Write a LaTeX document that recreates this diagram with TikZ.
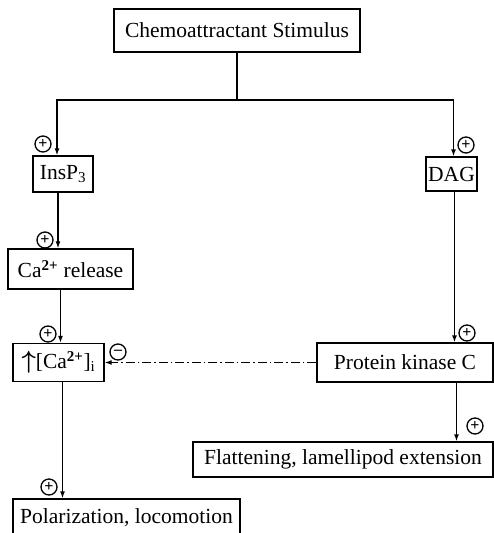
\documentclass[tikz,border=0pt]{standalone}
\usepackage{fontspec}
\setmainfont{Liberation Serif}
\usetikzlibrary{arrows.meta}
\tikzstyle{box}=[draw,line width=1.3pt,inner sep=2pt,font=\fontsize{21.5}{24}\selectfont]
\tikzstyle{sign}=[circle,draw,line width=1.3pt,minimum size=16pt,inner sep=0pt,font=\fontsize{16}{16}\selectfont\bfseries]
\tikzstyle{edge} = [draw,line width=1.3pt,-{Latex[length=7pt,width=5pt]}]
\tikzstyle{plainedge} = [draw,line width=1.3pt]
\tikzstyle{inhibitedge} = [edge,dash pattern=on 9pt off 3pt on 1.5pt off 3pt]

\begin{document}
\begin{tikzpicture}[x=1pt,y=-1pt]
    \useasboundingbox (0,0) rectangle (494,533);
    % First we draw the boxes
    \foreach \pos/\w/\h/\name/\txt in {{(237,30.5)/246pt/43pt/stim/{Chemoattractant Stimulus}},
        {(63,174)/60pt/36pt/insp/{InsP\textsubscript{3}}},
        {(451.5,174)/51pt/34pt/dag/{DAG}},
        {(70.5,269)/125pt/40pt/carel/{Ca\textsuperscript{\bfseries 2+} release}},
        {(58.5,362.5)/91pt/38pt/cai/{{\fontsize{26}{26}\selectfont\boldmath$\uparrow$}[Ca\textsuperscript{\bfseries 2+}]\textsubscript{i}}},
        {(405,362.5)/176pt/39pt/pkc/{Protein kinase C}},
        {(343,459.5)/300pt/35pt/flat/{Flattening, lamellipod extension}},
        {(126.5,518)/227pt/38pt/pol/{Polarization, locomotion}}}
        \node[box,minimum width=\w,minimum height=\h] (\name) at \pos {\txt};

    % Connect the boxes
    \coordinate (split) at (237,100);
    \path[plainedge] (stim) -- (split);
    \path[edge] (split) -| ([xshift=-6pt]insp.north);
    \path[edge] (split) -| ([xshift=2pt]dag.north);
    \path[edge] ([xshift=-5pt]insp.south) -- ([xshift=-5pt]insp.south |- carel.north);
    \path[edge] ([xshift=2pt]cai.north |- carel.south) -- ([xshift=2pt]cai.north);
    \path[edge] ([xshift=4pt]cai.south) -- ([xshift=4pt]cai.south |- pol.north);
    \path[edge] ([xshift=3pt]dag.south) -- ([xshift=3pt]dag.south |- pkc.north);
    \path[edge] ([xshift=5pt]dag.south |- pkc.south) -- ([xshift=5pt]dag.south |- flat.north);
    \path[inhibitedge] (pkc.west) -- (cai.east);

    % Signs next to the arrow heads
    \foreach \pos/\name/\s in {{(43,144)/sinsp/+}, {(466,145)/sdag/+}, {(45,240)/scarel/+},
        {(48,334)/scai/+}, {(118,352)/sinhib/--}, {(467,333)/spkc/+},
        {(475,426)/sflat/+}, {(49,487)/spol/+}}
        \node[sign] (\name) at \pos {\s};
\end{tikzpicture}
\end{document}
